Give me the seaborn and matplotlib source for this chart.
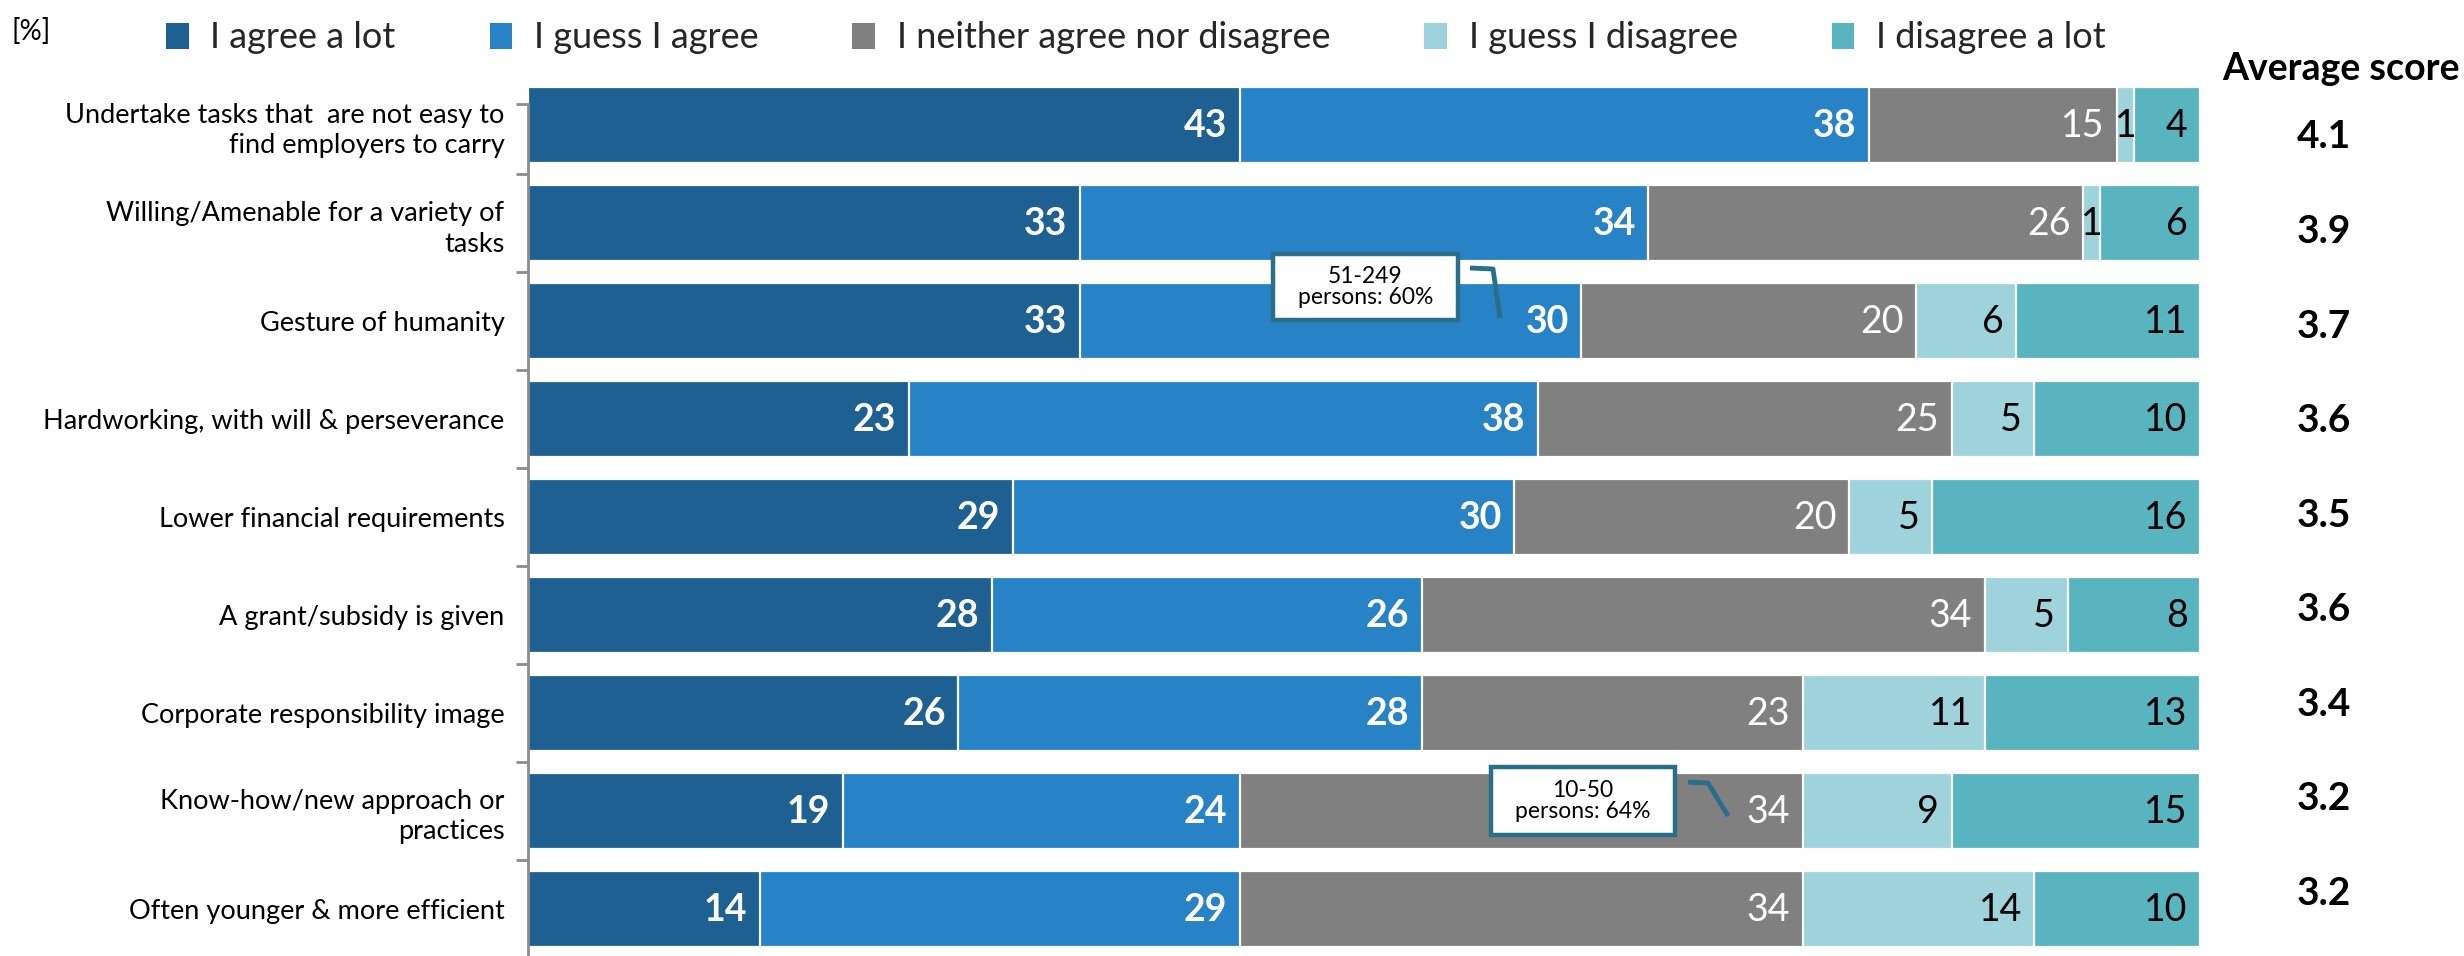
import numpy as np
import pandas as pd
import matplotlib
matplotlib.use("Agg")
import matplotlib.pyplot as plt
from matplotlib.patches import Patch, Rectangle
import seaborn as sns

# ---- data -------------------------------------------------------------
categories = [
    "Undertake tasks that  are not easy to\nfind employers to carry",
    "Willing/Amenable for a variety of\ntasks",
    "Gesture of humanity",
    "Hardworking, with will & perseverance",
    "Lower financial requirements",
    "A grant/subsidy is given",
    "Corporate responsibility image",
    "Know-how/new approach or\npractices",
    "Often younger & more efficient",
]
series_names = ["I agree a lot", "I guess I agree", "I neither agree nor disagree",
                "I guess I disagree", "I disagree a lot"]
agree_lot = [43, 33, 33, 23, 29, 28, 26, 19, 14]
guess_agree = [38, 34, 30, 38, 30, 26, 28, 24, 29]
neither = [15, 26, 20, 25, 20, 34, 23, 34, 34]
guess_disagree = [1, 1, 6, 5, 5, 5, 11, 9, 14]
disagree_lot = [4, 6, 11, 10, 16, 8, 13, 15, 10]
avg_scores = ["4.1", "3.9", "3.7", "3.6", "3.5", "3.6", "3.4", "3.2", "3.2"]

notes = ["51-249\npersons: 60%", "10-50\npersons: 64%"]

colors = ["#1f6092", "#2882c6", "#808080", "#9fd3db", "#58b5bf"]
label_colors = ["white", "white", "white", "black", "black"]
label_weights = ["bold", "bold", "normal", "normal", "normal"]

# ---- frame ------------------------------------------------------------
sns.set_theme(style="white")
plt.rcParams["font.family"] = ["Lato", "DejaVu Sans"]

W, H = 2464, 956
AX_L, AX_R, AX_T = 528, 2200, 80      # axes box in pixels
ROW0, ROW_STEP = 125, 98               # first row centre and row pitch in pixels

values = np.array([agree_lot, guess_agree, neither, guess_disagree, disagree_lot], dtype=float)
shares = values / values.sum(axis=0) * 100.0  # 100 % stacked rows
cum = np.cumsum(shares, axis=0)

df = pd.DataFrame({"category": categories})
for k in range(len(series_names)):
    df[f"cum{k}"] = cum[k]

fig = plt.figure(figsize=(W / 100, H / 100), dpi=100)
ax = fig.add_axes([AX_L / W, 0.0, (AX_R - AX_L) / W, 1 - AX_T / H])

# stacked bars: draw cumulative totals from the outermost segment inwards
for k in reversed(range(len(series_names))):
    sns.barplot(data=df, x=f"cum{k}", y="category", orient="h", color=colors[k],
                width=0.77, edgecolor="white", linewidth=1.6, saturation=1,
                ax=ax, zorder=2)


def py_to_y(py):
    return (py - ROW0) / ROW_STEP


def px_to_x(px):
    return (px - AX_L) / (AX_R - AX_L) * 100


ax.set_xlim(0, 100)
ax.set_ylim(py_to_y(H), py_to_y(AX_T))
ax.set_xlabel("")
ax.set_ylabel("")
ax.set_xticks([])

# category axis: labels on majors, tick marks between categories
ax.tick_params(axis="y", which="major", length=0, pad=17, labelsize=19.5, labelcolor="black")
for lab in ax.get_yticklabels():
    lab.set_multialignment("right")
    lab.set_linespacing(1.3)
spine_top = py_to_y(104)
ax.set_yticks([spine_top] + [i + 0.5 for i in range(len(categories) - 1)], minor=True)
ax.tick_params(axis="y", which="minor", length=9, width=2, color="#8c8c8c", left=True)
for side in ["top", "right", "bottom"]:
    ax.spines[side].set_visible(False)
ax.spines["left"].set_color("#8c8c8c")
ax.spines["left"].set_linewidth(2)
ax.spines["left"].set_bounds(spine_top, py_to_y(H))

# value labels, right-aligned at the end of each segment (centred on slivers)
starts = np.vstack([np.zeros(len(categories)), cum[:-1]])
for k in range(len(series_names)):
    for i in range(len(categories)):
        seg = shares[k, i]
        if seg < 3:
            xy, off, ha = ((starts[k, i] + cum[k, i]) / 2, i), (0, -1), "center"
        else:
            xy, off, ha = (cum[k, i], i), (-9, -1), "right"
        ax.annotate(f"{int(values[k, i])}", xy=xy, xytext=off,
                    textcoords="offset points", ha=ha, va="center",
                    fontsize=27, color=label_colors[k], fontweight=label_weights[k],
                    zorder=5)

# average score column
fig.text(2222 / W, 1 - 69 / H, "Average score", ha="left", va="center",
         fontsize=27, fontweight="bold", color="black")
for i, s in enumerate(avg_scores):
    ax.text(1.0 + (2324 - AX_R) / (AX_R - AX_L), py_to_y(137) + 0.965 * i, s,
            transform=ax.get_yaxis_transform(), ha="center", va="center",
            fontsize=28, fontweight="bold", color="black")

# callout boxes with leader lines (pixel layout)
box_color = "#2a6e8a"
callouts = [
    ((1273, 254, 1458, 320), [(1470, 268), (1493, 269), (1500, 318)]),
    ((1491, 767, 1675, 835), [(1688, 782), (1708, 783), (1728, 816)]),
]
for note, ((x0, y0, x1, y1), path) in zip(notes, callouts):
    bx0, bx1 = px_to_x(x0), px_to_x(x1)
    by0, by1 = py_to_y(y0), py_to_y(y1)
    ax.add_patch(Rectangle((bx0, by0), bx1 - bx0, by1 - by0, facecolor="white",
                           edgecolor=box_color, linewidth=3.2, zorder=7))
    ax.text((bx0 + bx1) / 2, (by0 + by1) / 2, note, ha="center", va="center",
            fontsize=16.5, color="black", linespacing=1.05, zorder=8)
    ax.plot([px_to_x(p[0]) for p in path], [py_to_y(p[1]) for p in path],
            color=box_color, lw=3.5, solid_capstyle="butt", zorder=6)

# legend across the top
handles = [Patch(facecolor=c, edgecolor="none") for c in colors]
fig.legend(handles, series_names, loc="center left", bbox_to_anchor=(166 / W, 1 - 38 / H),
           ncol=5, frameon=False, fontsize=26, handlelength=0.63, handleheight=0.72,
           handletextpad=0.6, columnspacing=2.6, borderaxespad=0, borderpad=0)

fig.text(12 / W, 1 - 31 / H, "[%]", ha="left", va="center", fontsize=20, color="black")

fig.savefig("out.png", dpi=100)
